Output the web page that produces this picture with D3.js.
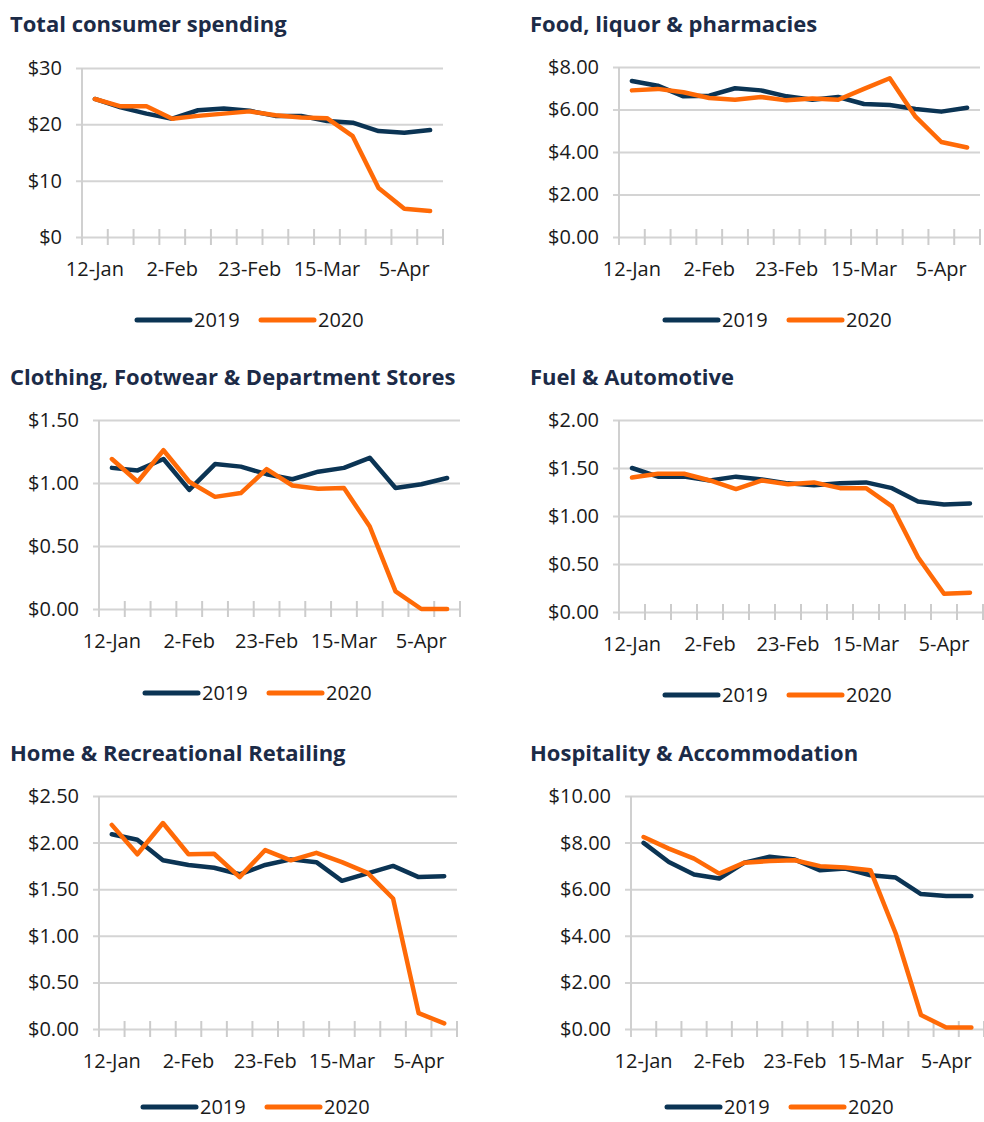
<!DOCTYPE html>
<html>
<head>
<meta charset="utf-8">
<script src="https://cdn.jsdelivr.net/npm/d3@7"></script>
<style>
  body { margin: 0; background: #fff; }
  svg { display: block; font-family: "Open Sans", sans-serif; }
</style>
</head>
<body>
<script>
// weekly categories (week ending)
const weeks = ["12-Jan", "19-Jan", "26-Jan", "2-Feb", "9-Feb", "16-Feb", "23-Feb",
  "1-Mar", "8-Mar", "15-Mar", "22-Mar", "29-Mar", "5-Apr", "12-Apr"];
const shownWeeks = ["12-Jan", "2-Feb", "23-Feb", "15-Mar", "5-Apr"];
const seriesNames = ["2019", "2020"];

const titles = ["Total consumer spending", "Food, liquor & pharmacies",
  "Clothing, Footwear & Department Stores", "Fuel & Automotive",
  "Home & Recreational Retailing", "Hospitality & Accommodation"];

// values
const total2019 = [24.5, 23.0, 21.9, 21.0, 22.5, 22.8, 22.4, 21.5, 21.5, 20.6, 20.3, 18.8, 18.5, 19.0];
const total2020 = [24.5, 23.2, 23.2, 21.0, 21.5, 21.9, 22.3, 21.6, 21.2, 21.1, 17.9, 8.7, 5.0, 4.6];
const food2019 = [7.34, 7.12, 6.62, 6.65, 7.0, 6.9, 6.62, 6.46, 6.59, 6.26, 6.21, 6.02, 5.9, 6.08];
const food2020 = [6.9, 6.97, 6.81, 6.54, 6.46, 6.59, 6.43, 6.52, 6.46, 6.97, 7.47, 5.66, 4.47, 4.21];
const cloth2019 = [1.12, 1.10, 1.19, 0.945, 1.15, 1.13, 1.07, 1.03, 1.09, 1.12, 1.20, 0.96, 0.99, 1.04];
const cloth2020 = [1.19, 1.01, 1.26, 1.01, 0.89, 0.92, 1.11, 0.98, 0.955, 0.96, 0.655, 0.14, 0.0, 0.0];
const fuel2019 = [1.50, 1.41, 1.41, 1.37, 1.41, 1.38, 1.34, 1.32, 1.34, 1.35, 1.29, 1.15, 1.12, 1.13];
const fuel2020 = [1.40, 1.44, 1.44, 1.37, 1.28, 1.37, 1.33, 1.35, 1.29, 1.29, 1.10, 0.57, 0.19, 0.20];
const home2019 = [2.09, 2.03, 1.81, 1.76, 1.73, 1.66, 1.76, 1.82, 1.79, 1.59, 1.67, 1.75, 1.63, 1.64];
const home2020 = [2.19, 1.875, 2.21, 1.875, 1.88, 1.63, 1.92, 1.81, 1.89, 1.79, 1.675, 1.40, 0.17, 0.06];
const hosp2019 = [7.99, 7.17, 6.63, 6.46, 7.14, 7.39, 7.27, 6.81, 6.89, 6.6, 6.5, 5.79, 5.71, 5.71];
const hosp2020 = [8.24, 7.74, 7.31, 6.67, 7.14, 7.21, 7.24, 6.99, 6.93, 6.81, 4.1, 0.6, 0.06, 0.06];

// y axis settings per panel
const yMax = [30, 8, 1.5, 2, 2.5, 10];
const yStep = [10, 2, 0.5, 0.5, 0.5, 2];
const yDecimals = [0, 2, 2, 2, 2, 2];

const seriesData = [
  [total2019, total2020], [food2019, food2020], [cloth2019, cloth2020],
  [fuel2019, fuel2020], [home2019, home2020], [hosp2019, hosp2020]
];

const colors = ["#0b3454", "#ff6a07"];

// panel layout
const layout = [
  { tx: 10, ty: 32, l: 82, r: 443, t: 68, b: 237, lx: 137, ly: 320 },
  { tx: 530, ty: 32, l: 619, r: 980, t: 67, b: 237, lx: 665, ly: 320 },
  { tx: 10, ty: 385, l: 99, r: 460, t: 420, b: 609, lx: 145, ly: 693 },
  { tx: 530, ty: 385, l: 619, r: 983, t: 420, b: 612, lx: 665, ly: 695 },
  { tx: 10, ty: 761, l: 99, r: 457, t: 796, b: 1029, lx: 143, ly: 1107 },
  { tx: 530, ty: 761, l: 631, r: 984, t: 796, b: 1029, lx: 667, ly: 1107 }
];

const svg = d3.select("body").append("svg")
  .attr("width", 984)
  .attr("height", 1122);

titles.forEach((title, i) => {
  const p = layout[i];
  const g = svg.append("g");

  g.append("text")
    .attr("x", p.tx)
    .attr("y", p.ty)
    .attr("fill", "#1c2b47")
    .attr("font-size", 22)
    .attr("font-weight", 700)
    .text(title);

  const x = d3.scaleBand().domain(weeks).range([p.l, p.r]).padding(0);
  const y = d3.scaleLinear().domain([0, yMax[i]]).range([p.b, p.t]);
  const yTicks = d3.range(0, yMax[i] + yStep[i] / 2, yStep[i]);

  // gridlines + y ticks
  const yAxis = g.append("g")
    .attr("transform", `translate(${p.l},0)`)
    .call(d3.axisLeft(y).tickValues(yTicks).tickSize(-(p.r - p.l))
      .tickFormat(d => "$" + d.toFixed(yDecimals[i])).tickPadding(20));
  yAxis.select(".domain").remove();
  yAxis.selectAll(".tick line")
    .attr("x1", -6)
    .attr("stroke", "#d4d4d4")
    .attr("stroke-width", 2);
  yAxis.selectAll(".tick text")
    .attr("font-size", 20)
    .attr("fill", "#1a1a1a")
    .attr("font-family", "Open Sans, sans-serif");

  // vertical axis line
  g.append("line")
    .attr("x1", p.l).attr("x2", p.l)
    .attr("y1", p.t).attr("y2", p.b + 8)
    .attr("stroke", "#d0d0d0")
    .attr("stroke-width", 2);

  // category boundary tick marks crossing the x axis
  const bounds = weeks.map(w => x(w)).concat([x(weeks[weeks.length - 1]) + x.bandwidth()]);
  g.selectAll(".xtick")
    .data(bounds.slice(1))
    .join("line")
    .attr("x1", d => d).attr("x2", d => d)
    .attr("y1", p.b - 8).attr("y2", p.b + 8)
    .attr("stroke", "#cccccc")
    .attr("stroke-width", 2);

  // x labels
  const xAxis = g.append("g")
    .attr("transform", `translate(0,${p.b})`)
    .call(d3.axisBottom(x).tickValues(shownWeeks).tickSize(0).tickPadding(25));
  xAxis.select(".domain").remove();
  xAxis.selectAll(".tick text")
    .attr("font-size", 20)
    .attr("fill", "#1a1a1a")
    .attr("font-family", "Open Sans, sans-serif");

  // lines
  const line = d3.line()
    .x((d, k) => x(weeks[k]) + x.bandwidth() / 2)
    .y(d => y(d));

  seriesData[i].forEach((vals, s) => {
    g.append("path")
      .datum(vals)
      .attr("fill", "none")
      .attr("stroke", colors[s])
      .attr("stroke-width", 4.5)
      .attr("stroke-linejoin", "round")
      .attr("stroke-linecap", "round")
      .attr("d", line);
  });

  // legend
  seriesNames.forEach((name, s) => {
    const lx = p.lx + s * 124;
    g.append("line")
      .attr("x1", lx).attr("x2", lx + 53)
      .attr("y1", p.ly).attr("y2", p.ly)
      .attr("stroke", colors[s])
      .attr("stroke-width", 5)
      .attr("stroke-linecap", "round");
    g.append("text")
      .attr("x", lx + 57)
      .attr("y", p.ly)
      .attr("dy", "0.35em")
      .attr("font-size", 20)
      .attr("fill", "#1a1a1a")
      .text(name);
  });
});
</script>
</body>
</html>
